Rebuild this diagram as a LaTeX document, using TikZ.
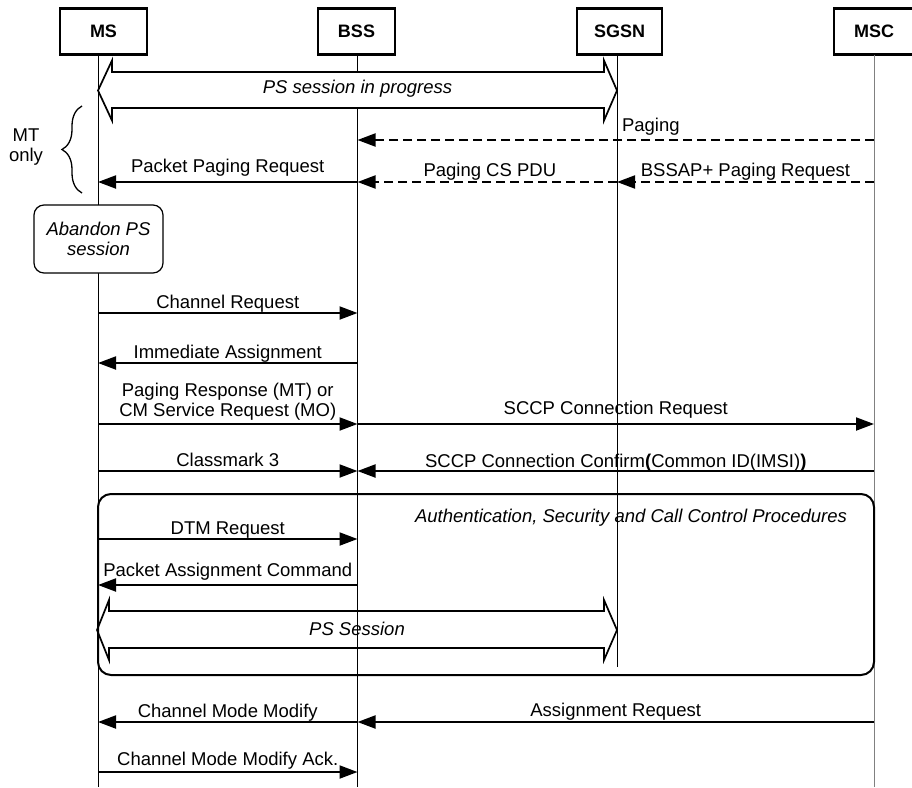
\documentclass[tikz,border=0pt]{standalone}
\usepackage{fontspec}
\setmainfont{Liberation Sans}
\usetikzlibrary{arrows.meta,decorations.pathreplacing}

\begin{document}
\begin{tikzpicture}[x=1pt, y=-1pt, >={Triangle[length=18pt,width=13pt]},
                    font=\fontsize{18.5}{20}\selectfont,
                    entity/.style={draw, line width=2.3pt, minimum height=46pt,
                                   inner sep=0pt, font=\fontsize{18}{20}\selectfont\bfseries},
                    life/.style={line width=1pt},
                    msg/.style={->, line width=2pt},
                    async/.style={msg, dash pattern=on 9pt off 5pt},
                    lbl/.style={anchor=base, inner sep=0pt, yshift=#1},
                    lbl/.default=4.5pt,
                    note/.style={draw, fill=white, line width=1.2pt, rounded corners=10pt, align=center,
                                 font=\fontsize{18.5}{20}\selectfont\itshape},
                    fat/.style={line width=1.7pt, line join=miter}]
  \useasboundingbox (0,0) rectangle (912,787);

  % entities
  \node[entity, minimum width=87pt] (MS)   at (103.5,31.5) {MS};
  \node[entity, minimum width=77pt] (BSS)  at (356.5,31.5) {BSS};
  \node[entity, minimum width=85pt] (SGSN) at (619.5,31.5) {SGSN};
  \node[entity, minimum width=80pt] (MSC)  at (874,31.5)   {MSC};

  % lifelines
  \coordinate (ms)   at (98,55);
  \coordinate (bss)  at (357.5,55);
  \coordinate (sgsn) at (617,55);
  \coordinate (msc)  at (874,55);
  \coordinate (bottom)  at (0,787);
  \coordinate (sgsnend) at (0,667);
  \draw[life] (ms) -- (ms |- bottom);
  \draw[life] (bss) -- (bss |- bottom);
  \draw[life] (sgsn) -- (sgsn |- sgsnend);
  \draw[life, gray] (msc) -- (msc |- bottom);

  % PS session in progress
  \draw[fat, fill=white] (98,90.5) -- (112,60.5) -- (112,72) -- (604,72) -- (604,60.5)
        -- (617,90.5) -- (604,120.5) -- (604,108) -- (112,108) -- (112,120.5) -- cycle;
  \node[font=\fontsize{18.5}{20}\selectfont\itshape] (inprog) at (357.5,89) {PS session in progress};

  % MT only
  \draw[line width=1.3pt, decorate, decoration={brace, amplitude=20pt}] (82,193) -- (82,106);
  \node[align=center] (mt) at (26,147) {MT\\only};

  \node[note, minimum width=129pt, minimum height=68pt] (abandon) at (98.5,239) {Abandon PS\\session};

  % rows
  \coordinate (paging) at (0,140);
  \coordinate (ppr)    at (0,182);
  \coordinate (chreq)  at (0,313);
  \coordinate (immass) at (0,363);
  \coordinate (pgresp) at (0,424);
  \coordinate (cm3)    at (0,471);
  \coordinate (dtm)    at (0,539);
  \coordinate (pktass) at (0,585);
  \coordinate (chmod)  at (0,722);
  \coordinate (chack)  at (0,772);

  \path (msc |- paging) edge[async] node[lbl=8.5pt, pos=0.432] {Paging} (bss |- paging)
        (bss |- ppr)    edge[msg]   node[lbl=10pt] {Packet Paging Request} (ms |- ppr)
        (sgsn |- ppr)   edge[async] node[lbl=5.4pt, pos=0.49] {Paging CS PDU} (bss |- ppr)
        (msc |- ppr)    edge[async] node[lbl=5.4pt] {BSSAP+ Paging Request} (sgsn |- ppr)
        (ms |- chreq)   edge[msg]   node[lbl] {Channel Request} (bss |- chreq)
        (bss |- immass) edge[msg]   node[lbl] {Immediate Assignment} (ms |- immass)
        (ms |- pgresp)  edge[msg]   node[anchor=south, inner sep=0pt, yshift=2.5pt, align=center]
                                      {Paging Response (MT) or\\CM Service Request (MO)} (bss |- pgresp)
        (bss |- pgresp) edge[msg]   node[lbl=9.4pt] {SCCP Connection Request} (msc |- pgresp)
        (ms |- cm3)     edge[msg]   node[lbl] {Classmark 3} (bss |- cm3)
        (msc |- cm3)    edge[msg]   node[lbl=3.6pt]
                                      {SCCP Connection Confirm{\bfseries (}Common ID(IMSI){\bfseries )}} (bss |- cm3);

  % authentication box
  \coordinate (frametop) at (0,494);
  \coordinate (framebot) at (0,675);
  \draw[line width=2pt, rounded corners=13pt] (ms |- frametop) rectangle (msc |- framebot);
  \node[font=\fontsize{18.5}{20}\selectfont\itshape] (auth) at (631,518)
        {Authentication, Security and Call Control Procedures};

  \path (ms |- dtm)     edge[msg] node[lbl] {DTM Request} (bss |- dtm)
        (bss |- pktass) edge[msg] node[lbl=8.4pt] {Packet Assignment Command} (ms |- pktass);

  % PS Session
  \draw[fat] (97,630) -- (109,600) -- (109,611) -- (604,611) -- (604,600) -- (617,630)
        -- (604,660) -- (604,648) -- (109,648) -- (109,660) -- cycle;
  \node[font=\fontsize{18.5}{20}\selectfont\itshape] (session) at (357,629) {PS Session};

  \path (bss |- chmod) edge[msg] node[lbl] {Channel Mode Modify} (ms |- chmod)
        (msc |- chmod) edge[msg] node[lbl=5.4pt] {Assignment Request} (bss |- chmod)
        (ms |- chack)  edge[msg] node[lbl=6.4pt] {Channel Mode Modify Ack.} (bss |- chack);
\end{tikzpicture}
\end{document}
